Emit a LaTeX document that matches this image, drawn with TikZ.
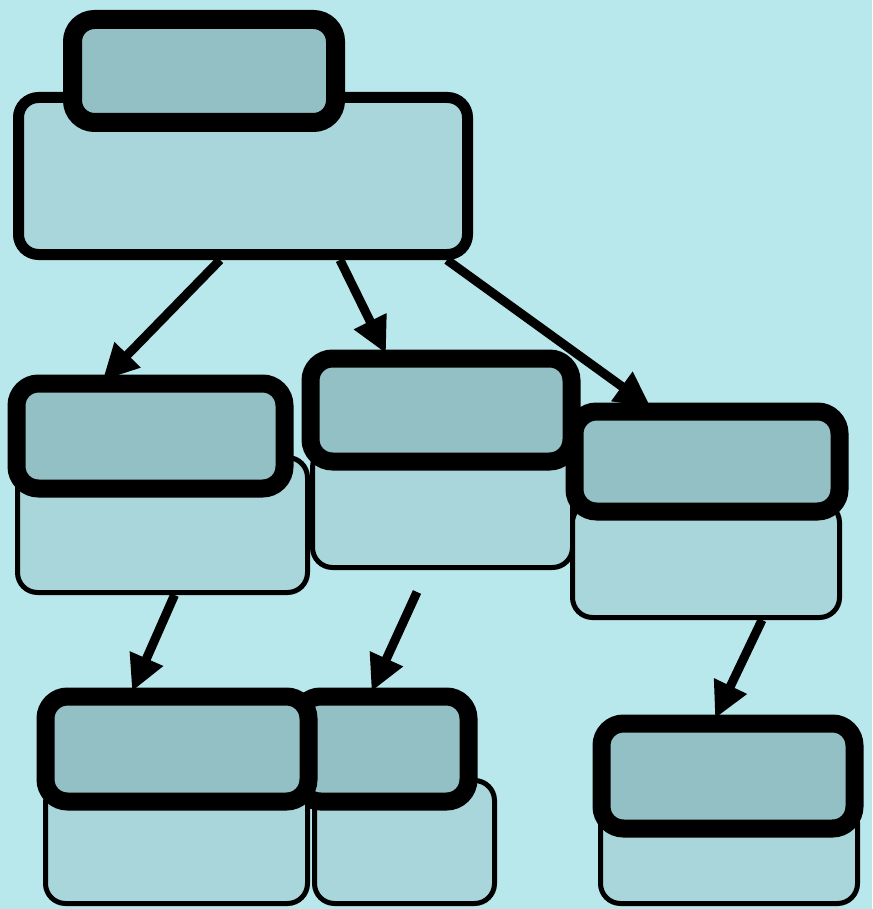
\documentclass[tikz,border=0pt]{standalone}
\usetikzlibrary{arrows.meta}
\definecolor{bg}{HTML}{B9E8EC}
\definecolor{hdfill}{HTML}{92C0C4}
\definecolor{bdfill}{HTML}{A8D6DA}
\begin{document}
\begin{tikzpicture}[x=1pt,y=-1pt,
  hdr/.style={draw=black,fill=hdfill,line width=18pt,rounded corners=22pt,inner sep=0pt},
  bdy/.style={draw=black,fill=bdfill,line width=5pt,rounded corners=20pt,inner sep=0pt},
  conn/.style={line width=9pt,-{Triangle[length=36pt,width=34pt]}}]
\fill[bg] (0,0) rectangle (872,909);
\useasboundingbox (0,0) rectangle (872,909);
% root
\node[bdy,line width=11pt,minimum width=449pt,minimum height=157pt] (rootb) at (243,176) {};
\node[hdr,line width=19pt,minimum width=263pt,minimum height=103pt] (rooth) at (204,71) {};
% A
\node[bdy,minimum width=290pt,minimum height=135pt] (ab) at (162.5,525) {};
\node[hdr,minimum width=268pt,minimum height=105pt] (ah) at (150.5,436) {};
% B
\node[bdy,minimum width=260pt,minimum height=120pt] (bb) at (442.5,507.5) {};
\node[hdr,minimum width=261pt,minimum height=103pt] (bh) at (441,410) {};
% C
\node[bdy,minimum width=267pt,minimum height=115pt] (cb) at (706,560) {};
\node[hdr,minimum width=265pt,minimum height=100pt] (ch) at (707,461.5) {};
% E
\node[bdy,minimum width=180pt,minimum height=123pt] (eb) at (404.5,842) {};
\node[hdr,minimum width=170pt,minimum height=105pt] (eh) at (383.5,749) {};
% D
\node[bdy,minimum width=262pt,minimum height=121pt] (db) at (176.5,843) {};
\node[hdr,minimum width=263pt,minimum height=105pt] (dh) at (177,749) {};
% F
\node[bdy,minimum width=257pt,minimum height=101pt] (fb) at (729,853) {};
\node[hdr,minimum width=253pt,minimum height=105pt] (fh) at (728,776) {};
% connectors
\coordinate (efree) at (417,592);
\draw[conn] ([xshift=-23pt]rootb.south) -- ([xshift=-48pt,yshift=-6pt]ah.north);
\draw[conn] ([xshift=97pt]rootb.south) -- ([xshift=-55pt,yshift=-4pt]bh.north);
\draw[conn] ([xshift=204pt]rootb.south) -- ([xshift=-56pt,yshift=-5pt]ch.north);
\draw[conn] ([xshift=12pt]ab.south) -- ([xshift=-45pt,yshift=-4pt]dh.north);
\draw[conn] (efree) -- ([xshift=-12pt,yshift=-4pt]eh.north);
\draw[conn] ([xshift=56pt]cb.south) -- ([xshift=-13pt,yshift=-4pt]fh.north);
\end{tikzpicture}
\end{document}
